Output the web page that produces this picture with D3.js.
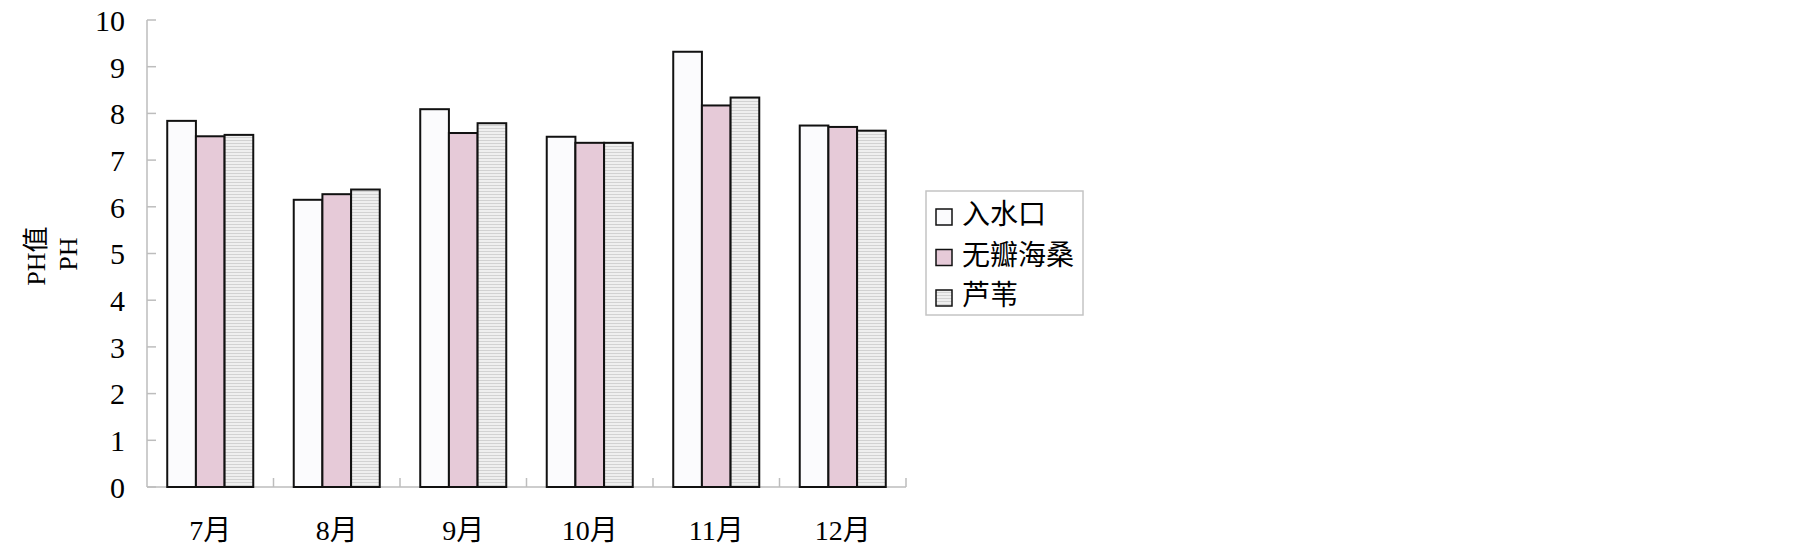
<!DOCTYPE html>
<html>
<head>
<meta charset="utf-8">
<script src="https://cdn.jsdelivr.net/npm/d3@7"></script>
<style>
  body { margin: 0; background: #fff; }
  text { font-family: "Liberation Serif", "Noto Sans CJK SC", serif; fill: #000; }
</style>
</head>
<body>
<div id="chart"></div>
<script>
// data
var months = ["7月", "8月", "9月", "10月", "11月", "12月"];
var seriesNames = ["入水口", "无瓣海桑", "芦苇"];
var inlet = [7.84, 6.15, 8.09, 7.50, 9.32, 7.74];
var sonneratia = [7.51, 6.27, 7.58, 7.37, 8.17, 7.71];
var reed = [7.54, 6.37, 7.79, 7.37, 8.34, 7.63];
var yTicks = [0, 1, 2, 3, 4, 5, 6, 7, 8, 9, 10];

var W = 1805, H = 552;
var margin = {top: 20, left: 147},
    plotW = 906 - 147,
    plotH = 487 - 20;

var svg = d3.select("#chart").append("svg")
    .attr("width", W)
    .attr("height", H);

// horizontal stripes for the third series
var defs = svg.append("defs");
var pat = defs.append("pattern")
    .attr("id", "stripe")
    .attr("patternUnits", "userSpaceOnUse")
    .attr("width", 200).attr("height", 3);
pat.append("rect").attr("width", 200).attr("height", 3).attr("fill", "#efefef");
pat.append("rect").attr("width", 200).attr("height", 1).attr("fill", "#d2d2d2");

var fills = ["#fbfbfd", "#e6cad8", "url(#stripe)"];

var g = svg.append("g")
    .attr("transform", "translate(" + margin.left + "," + margin.top + ")");

var x = d3.scaleBand().domain(months).range([0, plotW]).padding(0);
var y = d3.scaleLinear().domain([0, 10]).range([plotH, 0]);
var groupW = x.bandwidth() * 0.68;
var x1 = d3.scaleBand().domain(seriesNames).range([0, groupW]).padding(0);

var table = months.map(function(m, i) {
    return {month: m, values: [inlet[i], sonneratia[i], reed[i]]};
});

// axes
g.append("line")
    .attr("x1", 0).attr("x2", 0).attr("y1", 0).attr("y2", plotH)
    .attr("stroke", "#bdbdbd").attr("stroke-width", 1.5);
g.append("line")
    .attr("x1", 0).attr("x2", plotW).attr("y1", plotH).attr("y2", plotH)
    .attr("stroke", "#bdbdbd").attr("stroke-width", 1.5);

g.selectAll(".ytick").data(yTicks).enter().append("line")
    .attr("x1", 0).attr("x2", 9)
    .attr("y1", function(d) { return y(d); })
    .attr("y2", function(d) { return y(d); })
    .attr("stroke", "#bdbdbd").attr("stroke-width", 1.5);

g.selectAll(".ylab").data(yTicks).enter().append("text")
    .attr("x", -22)
    .attr("y", function(d) { return y(d) + 4; })
    .attr("text-anchor", "end")
    .attr("dominant-baseline", "middle")
    .attr("font-size", 30)
    .text(function(d) { return d; });

// category boundary ticks
g.selectAll(".xtick").data(months).enter().append("line")
    .attr("x1", function(d) { return x(d) + x.bandwidth(); })
    .attr("x2", function(d) { return x(d) + x.bandwidth(); })
    .attr("y1", plotH).attr("y2", plotH - 9)
    .attr("stroke", "#bdbdbd").attr("stroke-width", 1.5);

g.selectAll(".xlab").data(months).enter().append("text")
    .attr("x", function(d) { return x(d) + x.bandwidth() / 2; })
    .attr("y", plotH + 47)
    .attr("text-anchor", "middle")
    .attr("dominant-baseline", "middle")
    .attr("font-size", 28)
    .text(function(d) { return d; });

// bars
var groups = g.selectAll(".grp").data(table).enter().append("g")
    .attr("transform", function(d) {
        return "translate(" + (x(d.month) + (x.bandwidth() - groupW) / 2) + ",0)";
    });

groups.selectAll("rect").data(function(d) {
        return d.values.map(function(v, i) { return {name: seriesNames[i], value: v, i: i}; });
    }).enter().append("rect")
    .attr("x", function(d) { return x1(d.name); })
    .attr("y", function(d) { return y(d.value); })
    .attr("width", x1.bandwidth())
    .attr("height", function(d) { return plotH - y(d.value); })
    .attr("fill", function(d) { return fills[d.i]; })
    .attr("stroke", "#111")
    .attr("stroke-width", 2);

// y title
svg.append("text")
    .attr("transform", "translate(39,256) rotate(-90)")
    .attr("text-anchor", "middle")
    .attr("dominant-baseline", "middle")
    .attr("font-size", 26)
    .text("PH值");
svg.append("text")
    .attr("transform", "translate(71,254) rotate(-90)")
    .attr("text-anchor", "middle")
    .attr("dominant-baseline", "middle")
    .attr("font-size", 26)
    .text("PH");

// legend
var legend = svg.append("g").attr("transform", "translate(926,191)");
legend.append("rect")
    .attr("width", 157).attr("height", 124)
    .attr("fill", "#fff").attr("stroke", "#c4c4c4").attr("stroke-width", 1.5);

var items = legend.selectAll(".item").data(seriesNames).enter().append("g")
    .attr("transform", function(d, i) { return "translate(0," + (26 + i * 40.5) + ")"; });
items.append("rect")
    .attr("x", 10).attr("y", -8).attr("width", 16).attr("height", 16)
    .attr("fill", function(d, i) { return fills[i]; })
    .attr("stroke", "#111").attr("stroke-width", 1.5);
items.append("text")
    .attr("x", 36).attr("y", 1)
    .attr("dominant-baseline", "middle")
    .attr("font-size", 28)
    .text(function(d) { return d; });
</script>
</body>
</html>
